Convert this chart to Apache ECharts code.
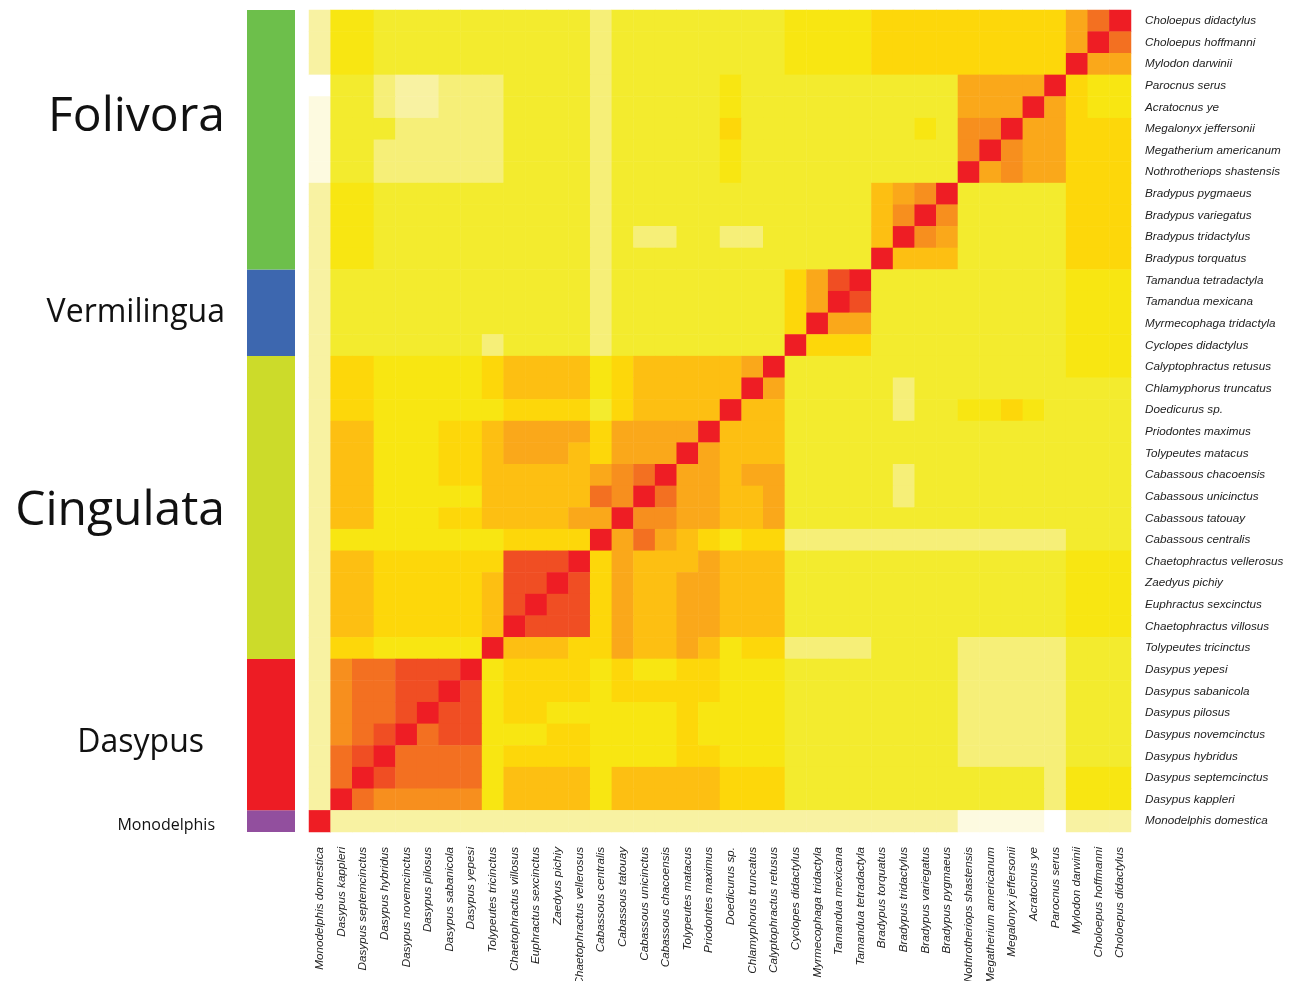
<!DOCTYPE html>
<html lang="en">
<head>
<meta charset="UTF-8">
<title>Xenarthra heatmap</title>
<script src="https://cdn.jsdelivr.net/npm/echarts@6.0.0/dist/echarts.min.js"></script>
<style>
  html, body { margin: 0; padding: 0; background: #fff; }
  #chart { width: 1294px; height: 981px; }
</style>
</head>
<body>
<div id="chart"></div>
<script>
// species in axis order (x: left to right, y: bottom to top)
var species = [
    'Monodelphis domestica', 'Dasypus kappleri', 'Dasypus septemcinctus', 'Dasypus hybridus',
    'Dasypus novemcinctus', 'Dasypus pilosus', 'Dasypus sabanicola', 'Dasypus yepesi',
    'Tolypeutes tricinctus', 'Chaetophractus villosus', 'Euphractus sexcinctus', 'Zaedyus pichiy',
    'Chaetophractus vellerosus', 'Cabassous centralis', 'Cabassous tatouay', 'Cabassous unicinctus',
    'Cabassous chacoensis', 'Tolypeutes matacus', 'Priodontes maximus', 'Doedicurus sp.',
    'Chlamyphorus truncatus', 'Calyptophractus retusus', 'Cyclopes didactylus', 'Myrmecophaga tridactyla',
    'Tamandua mexicana', 'Tamandua tetradactyla', 'Bradypus torquatus', 'Bradypus tridactylus',
    'Bradypus variegatus', 'Bradypus pygmaeus', 'Nothrotheriops shastensis', 'Megatherium americanum',
    'Megalonyx jeffersonii', 'Acratocnus ye', 'Parocnus serus', 'Mylodon darwinii',
    'Choloepus hoffmanni', 'Choloepus didactylus'
];

// groups on the left, bottom to top
var groupNames = ['Monodelphis', 'Dasypus', 'Cingulata', 'Vermilingua', 'Folivora'];
var groupSizes = [1, 7, 14, 4, 12];
var groupColors = ['#924f9e', '#ed1c24', '#ccdb2a', '#3d67af', '#6dbf4b'];

// colour level of every cell, 0 (white) .. c (red)
// one string per row, top row first, columns follow `species`
// spaces only split blocks: mono | dasypus | cingulata | vermilingua | bradypus | megatherioidea | mylodontidae
var levelRows = [
    '2 5544444 44444344444444 5555 6666 66666 8ac',
    '2 5544444 44444344444444 5555 6666 66666 8ca',
    '2 5544444 44444344444444 5555 6666 66666 c88',
    '0 4432233 34444344444544 4444 4444 8888c 655',
    '1 4432233 34444344444544 4444 4444 888c8 655',
    '1 4443333 34444344444644 4444 4454 99c88 666',
    '1 4433333 34444344444544 4444 4444 9c988 666',
    '1 4433333 34444344444544 4444 4444 c8988 666',
    '2 5544444 44444344444444 4444 789c 44444 666',
    '2 5544444 44444344444444 4444 79c9 44444 666',
    '2 5544444 44444343344334 4444 7c98 44444 666',
    '2 5544444 44444344444444 4444 c777 44444 666',
    '2 4444444 44444344444444 68bc 4444 44444 555',
    '2 4444444 44444344444444 68cb 4444 44444 555',
    '2 4444444 44444344444444 6c88 4444 44444 555',
    '2 4444444 34444344444444 c666 4444 44444 555',
    '2 6655555 6777756777778c 4444 4444 44444 555',
    '2 6655555 677775677777c8 4444 4344 44444 444',
    '2 6655555 56666467777c77 4444 4344 55654 444',
    '2 7755566 7888868888c777 4444 4444 44444 444',
    '2 7755566 788876888c8777 4444 4444 44444 444',
    '2 7755566 7777789ac88788 4444 4344 44444 444',
    '2 7755555 77777a9ca88778 4444 4344 44444 444',
    '2 7755566 777788c9988778 4444 4444 44444 444',
    '2 5555555 56666c8a876566 3333 3333 33333 444',
    '2 7766666 6bbbc687778777 4444 4444 44444 555',
    '2 7766666 7bbcb687788777 4444 4444 44444 555',
    '2 7766666 7bcbb687788777 4444 4444 44444 555',
    '2 7766666 7cbbb687788777 4444 4444 44444 555',
    '2 6655555 c7776687787566 3333 4444 33333 444',
    '2 9aabbbc 56666565566555 4444 4444 33333 444',
    '2 9aabbcb 56666566666555 4444 4444 33333 444',
    '2 9aabcbb 56655555565555 4444 4444 33333 444',
    '2 9abcabb 55566555565555 4444 4444 33333 444',
    '2 abcaaaa 56666555566555 4444 4444 33333 444',
    '2 acbaaaa 57777577777666 4444 4444 44443 555',
    '2 ca99999 57777577777666 4444 4444 44443 555',
    'c 2222222 22222222222222 2222 2222 11110 222'
];

var levelColors = [
    '#ffffff', '#fdfae0', '#f8f2a2', '#f6ef78', '#f3eb2e', '#f8e612', '#fdd70a',
    '#fdbf12', '#faa81a', '#f78f1e', '#f37021', '#f04e23', '#ee1d24'
];

var cells = [];
levelRows.forEach(function (row, r) {
    var s = row.replace(/ /g, '');
    for (var c = 0; c < s.length; c++) {
        cells.push([c, species.length - 1 - r, parseInt(s[c], 13)]);
    }
});

var labelFont = {
    fontFamily: 'Liberation Sans, Arial, sans-serif',
    fontStyle: 'italic',
    fontSize: 11.7,
    color: '#222'
};

// left colour band, one stacked bar per group
var groupLabelSize = [16, 32, 48, 32, 48];
var groupLabelDist = [32, 43, 22, 22, 22];
var groupLabelShift = [[0, 4], [0, 8], [0, 4], [0, 0], [0, -22]];
var groupSeries = groupNames.map(function (name, i) {
    return {
        name: name,
        type: 'bar',
        stack: 'grp',
        xAxisIndex: 1,
        yAxisIndex: 1,
        barWidth: '100%',
        data: [groupSizes[i]],
        itemStyle: { color: groupColors[i] },
        label: {
            show: true,
            position: 'left',
            distance: groupLabelDist[i],
            offset: groupLabelShift[i],
            formatter: name,
            fontFamily: 'Open Sans, Noto Sans, sans-serif',
            fontSize: groupLabelSize[i],
            color: '#111'
        },
        silent: true
    };
});

var chart = echarts.init(document.getElementById('chart'));
chart.setOption({
    animation: false,
    backgroundColor: '#fff',
    grid: [
        { left: 309, top: 10, width: 822, height: 822, outerBoundsMode: 'none', containLabel: false },
        { left: 247, top: 10, width: 48, height: 822, outerBoundsMode: 'none', containLabel: false }
    ],
    xAxis: [{
        type: 'category',
        data: species,
        gridIndex: 0,
        position: 'bottom',
        axisLine: { show: false },
        axisTick: { show: false },
        axisLabel: Object.assign({ rotate: 90, interval: 0, margin: 15 }, labelFont),
        splitArea: { show: false }
    }, {
        type: 'category',
        data: ['group'],
        gridIndex: 1,
        show: false
    }],
    yAxis: [{
        type: 'category',
        data: species,
        gridIndex: 0,
        position: 'right',
        axisLine: { show: false },
        axisTick: { show: false },
        axisLabel: Object.assign({ interval: 0, margin: 14 }, labelFont),
        splitArea: { show: false }
    }, {
        type: 'value',
        gridIndex: 1,
        min: 0,
        max: species.length,
        show: false
    }],
    visualMap: {
        show: false,
        type: 'continuous',
        seriesIndex: 0,
        dimension: 2,
        min: 0,
        max: 12,
        inRange: { color: levelColors }
    },
    series: [{
        type: 'heatmap',
        data: cells,
        progressive: 0,
        itemStyle: { borderWidth: 0 },
        emphasis: { disabled: true },
        silent: true
    }].concat(groupSeries)
});
</script>
</body>
</html>
